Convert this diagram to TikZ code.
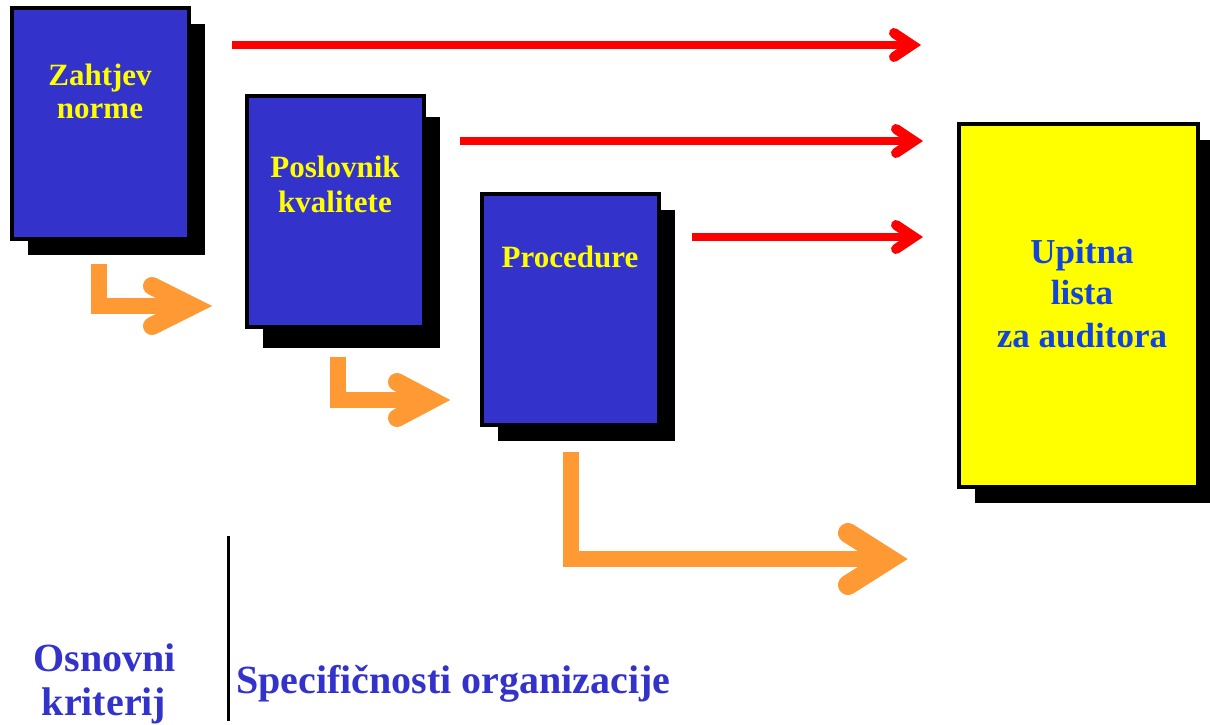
\documentclass[tikz,border=0pt]{standalone}
\usepackage{fontspec}
\setmainfont{Liberation Serif}
\usetikzlibrary{shadows,calc}
\definecolor{boxblue}{HTML}{3333CC}
\definecolor{boxyellow}{HTML}{FFFF00}
\definecolor{txtyellow}{HTML}{FFFF00}
\definecolor{arrred}{HTML}{FF0000}
\definecolor{arrorange}{HTML}{FF9933}
\definecolor{txtblue}{HTML}{3333CC}
\definecolor{txtblue2}{HTML}{1144DD}
\tikzset{
  docbox/.style={draw=black, line width=4pt, fill=boxblue, minimum width=177pt, minimum height=231pt, inner sep=0pt},
  shad/.style={drop shadow={shadow xshift=#1, shadow yshift=-16pt, opacity=1, fill=black}},
  shadb/.style={drop shadow={shadow xshift=16pt, shadow yshift=-21pt, opacity=1, fill=black}},
  boxtext/.style={font=\bfseries\fontsize{31}{33}\selectfont, text=txtyellow, anchor=base, inner sep=0pt},
  listtext/.style={font=\bfseries\fontsize{35}{38}\selectfont, text=txtblue2, anchor=base, inner sep=0pt},
  bottext/.style={font=\bfseries\fontsize{40}{44}\selectfont, text=txtblue, anchor=base, inner sep=0pt},
  redline/.style={draw=arrred, line width=8pt, line cap=butt},
  redhead/.style={draw=arrred, line width=10pt, line cap=round, line join=miter},
  orline/.style={draw=arrorange, line width=16pt, line cap=butt, line join=miter},
  orhead/.style={draw=arrorange, line width=#1, line cap=round, line join=miter},
}
\begin{document}
\begin{tikzpicture}[x=1pt,y=-1pt]
\useasboundingbox (0,0) rectangle (1210,724);

% boxes
\node[docbox, shad=16pt] (b1) at (100.5,123.5) {};
\node[docbox, shadb] (b2) at (335.5,211.5) {};
\node[docbox, shad=16pt] (b3) at (570.5,309) {};
\node[draw=black, line width=4pt, fill=boxyellow, minimum width=239pt, minimum height=363pt, inner sep=0pt, shad=16pt] (b4) at (1078.5,305.5) {};

% box texts
\node[boxtext] (t1a) at (100,85) {Zahtjev};
\node[boxtext] (t1b) at (100,118) {norme};
\node[boxtext] (t2a) at (335,177) {Poslovnik};
\node[boxtext] (t2b) at (335,212) {kvalitete};
\node[boxtext] (t3a) at (570,267) {Procedure};
\node[listtext] (t4a) at (1082,263) {Upitna};
\node[listtext] (t4b) at (1082,304) {lista};
\node[listtext] (t4c) at (1082,347) {za auditora};

% red arrows
\coordinate (r1s) at (232,45);  \coordinate (r1e) at (912,45);
\coordinate (r2s) at (460,141); \coordinate (r2e) at (914,141);
\coordinate (r3s) at (692,237); \coordinate (r3e) at (914,237);
\foreach \s/\e in {r1s/r1e, r2s/r2e, r3s/r3e}{
  \draw[redline] (\s) -- (\e);
  \draw[redhead] ($(\e)+(-18,-12)$) -- (\e) -- ($(\e)+(-18,12)$);
}

% orange arrows
\coordinate (o1s) at (99,264);  \coordinate (o1c) at (99,306);  \coordinate (o1e) at (192,306);
\coordinate (o2s) at (338,357); \coordinate (o2c) at (338,400); \coordinate (o2e) at (431,400);
\coordinate (o3s) at (571,452); \coordinate (o3c) at (571,559); \coordinate (o3e) at (889,559);
\draw[orline] (o1s) -- (o1c) -- (o1e);
\draw[orhead=18pt] ($(o1e)+(-40,-20)$) -- (o1e) -- ($(o1e)+(-40,20)$);
\draw[orline] (o2s) -- (o2c) -- (o2e);
\draw[orhead=18pt] ($(o2e)+(-34,-18)$) -- (o2e) -- ($(o2e)+(-34,18)$);
\draw[orline] (o3s) -- (o3c) -- (o3e);
\draw[orhead=20pt] ($(o3e)+(-41,-26)$) -- (o3e) -- ($(o3e)+(-41,26)$);

% bottom
\coordinate (vtop) at (228,536); \coordinate (vbot) at (228,721);
\draw[black, line width=3pt] (vtop) -- (vbot);
\node[bottext] (k1) at (104.5,671) {Osnovni};
\node[bottext] (k2) at (104,715) {kriterij};
\node[bottext, anchor=base west] (k3) at (236,693) {Specifičnosti organizacije};
\end{tikzpicture}
\end{document}
